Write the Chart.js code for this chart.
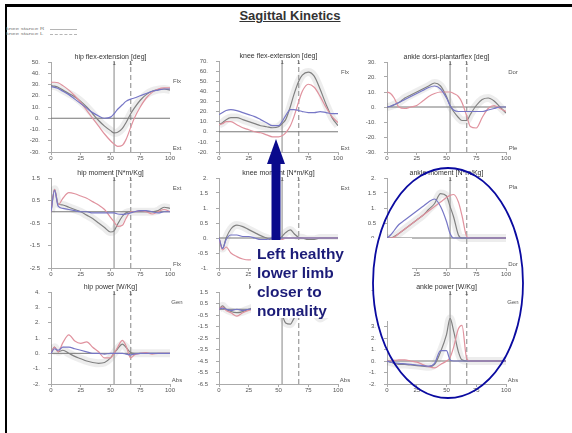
<!DOCTYPE html>
<html>
<head>
<meta charset="utf-8">
<title>Sagittal Kinetics</title>
<script src="https://cdn.jsdelivr.net/npm/chart.js@4.4.0/dist/chart.umd.min.js"></script>
<style>
  html, body { margin: 0; padding: 0; background: #fff; }
  body { position: relative; width: 572px; height: 433px; overflow: hidden; font-family: "Liberation Sans", Arial, sans-serif; }
  #frame { position: absolute; left: 5px; top: 4px; right: 0; bottom: 0; border-top: 3px solid #000; border-left: 2px solid #000; }
  #title { position: absolute; left: 190px; width: 200px; top: 8px; text-align: center; font-weight: bold; font-size: 13px; color: #333; text-decoration: underline; }
  canvas { position: absolute; }
  .lg { position: absolute; left: 6px; height: 5px; font-size: 6px; line-height: 5px; color: #777; white-space: nowrap; }
  .lg span { display: inline-block; transform: scaleY(0.6); }
  .lg i { position: absolute; left: 44px; top: 2px; width: 27px; border-top: 1px solid #b5b5b5; }
  .lg i.dash { border-top-style: dashed; }
  #overlay { position: absolute; left: 0; top: 0; z-index: 5; }
  #note { position: absolute; z-index: 6; left: 251px; top: 240px; width: 100px; height: 78px; background: #fff; color: #1c1c78;
          font-weight: bold; font-size: 15.5px; line-height: 19px; padding: 4px 0 0 6px; box-sizing: border-box; }
</style>
</head>
<body>
<div id="frame"></div>
<div id="title">Sagittal Kinetics</div>
<div class="lg" style="top:27px"><span>knee stance R</span><i></i></div>
<div class="lg" style="top:32px"><span>knee stance L</span><i class="dash"></i></div>

<svg id="overlay" width="572" height="433">
  <rect x="360" y="238" width="52" height="40" fill="#fff"/>
  <rect x="360" y="291" width="31" height="30" fill="#fff"/>
  <ellipse cx="448" cy="283" rx="75" ry="115" fill="none" stroke="#0a0aa0" stroke-width="1.8"/>
  <polygon points="276,139 267,164 285,164" fill="#0a0a8c"/>
  <rect x="271.5" y="163" width="9" height="78" fill="#0a0a8c"/>
</svg>
<div id="note">Left healthy<br>lower limb<br>closer to<br>normality</div>

<script>
// % of gait cycle
const X = [0, 3, 6, 10, 15, 20, 25, 30, 35, 40, 45, 50, 53, 56, 60, 63, 67, 70, 75, 80, 85, 90, 95, 100];
// toe-off markers (solid / dashed)
const EVENTS = [53, 67];
const XTICKS = [0, 25, 50, 75, 100];

// hip flex-extension [deg]
const hipFlexNorm = [29, 28.5, 27.5, 25, 22, 19, 15, 10, 4, -2, -7, -11, -13, -12.5, -9, -4, 4, 9, 16, 21, 24, 25.5, 26, 25];
const hipFlexR = [32, 32, 31.5, 29, 25, 20, 14, 7, 0, -7, -14, -20, -23, -25, -24, -19, -8, 0, 10, 18, 23, 26, 27, 27];
const hipFlexL = [28, 27.5, 26.5, 24, 21, 17, 13, 9, 5, 2, 0, 1, 4, 8, 12, 15, 17, 18, 20, 22, 24, 25, 26, 26];

// knee flex-extension [deg]
const kneeFlexNorm = [7, 9, 12, 14, 14, 12, 10, 8, 6, 5, 4, 5, 8, 12, 25, 37, 50, 56, 59, 55, 42, 27, 14, 6];
const kneeFlexR = [7, 8, 10, 10, 7, 4, 2, 0, -1, -3, -5, -5, -4, -1, 6, 15, 30, 40, 47, 44, 35, 24, 15, 9];
const kneeFlexL = [17, 19, 21, 22, 21, 19, 17, 15, 12, 9, 6, 6, 10, 16, 22, 22, 21, 20, 19, 19, 20, 19, 18, 18];

// ankle dorsi-plantarflex [deg]
const ankleFlexNorm = [0, 0.5, 1.5, 3, 6, 8, 10, 12, 14, 16, 14, 7, 1, -3, -7, -9, -9, -5, 1, 5, 6, 4, 0, -4];
const ankleFlexR = [10, 9, 6, 0, -1, 0, 1, 4, 7, 9, 10, 10, 10, 9, 7, 3, -6, -13, -14, -7, -1, 1, -1, -3];
const ankleFlexL = [0, 0.5, 1.5, 3, 5, 7, 9, 11, 13, 14, 12, 6, 1, -2, -3, -3, -3, -3, -3, -3, -2, -1, 0, 0];

// hip moment [N*m/Kg]
const hipMomNorm = [0, 1.0, 0.35, 0.3, 0.2, 0.1, 0, -0.15, -0.3, -0.5, -0.7, -0.9, -0.85, -0.55, -0.2, -0.05, 0, 0, 0, 0, 0, 0.05, 0.2, 0.15];
const hipMomR = [0, 1.0, 0.3, 0.6, 0.85, 0.8, 0.7, 0.6, 0.45, 0.3, 0.1, -0.25, -0.45, -0.65, -0.6, -0.3, 0, 0, 0.05, 0, -0.1, 0, 0.1, 0];
const hipMomL = [0, 0.95, 0.25, 0.15, 0.1, 0.05, 0, 0, -0.05, -0.05, -0.05, -0.05, -0.05, -0.1, -0.12, -0.1, -0.05, 0, 0.05, 0.05, 0, -0.05, 0, 0];

// knee moment [N*m/Kg]
const kneeMomNorm = [0, -0.35, 0, 0.3, 0.43, 0.38, 0.28, 0.18, 0.08, 0, -0.08, -0.05, 0.05, 0.18, 0.27, 0.15, 0.02, 0, -0.05, -0.05, 0, 0, 0, 0];
const kneeMomR = [0, -0.4, -0.3, -0.5, -0.62, -0.7, -0.73, -0.7, -0.55, -0.35, -0.2, -0.1, -0.05, 0, 0, 0, 0, 0, 0, 0, 0, 0, 0, 0];
const kneeMomL = [0, -0.35, -0.05, 0.1, 0.1, 0.05, 0.05, 0, -0.05, -0.05, 0, 0, 0, 0, 0, 0, 0, 0, 0, 0, 0, 0, 0, 0];

// ankle moment [N*m/Kg]
const ankleMomNorm = [0, 0, 0.05, 0.15, 0.3, 0.45, 0.6, 0.75, 0.95, 1.15, 1.48, 1.4, 1.05, 0.7, 0.1, 0, 0, 0, 0, 0, 0, 0, 0, 0];
const ankleMomR = [0, 0, 0.02, 0.15, 0.3, 0.45, 0.6, 0.75, 0.9, 1.05, 1.2, 1.35, 1.42, 1.45, 1.2, 0.75, 0.05, 0, 0, 0, 0, 0, 0, 0];
const ankleMomL = [0, 0.1, 0.25, 0.45, 0.6, 0.75, 0.9, 1.05, 1.2, 1.3, 1.05, 0.55, 0.15, 0, 0, 0, 0, 0, 0, 0, 0, 0, 0, 0];

// hip power [W/Kg]
const hipPowNorm = [0, 0.4, 0.1, 0.2, 0, -0.2, -0.35, -0.5, -0.6, -0.65, -0.6, -0.3, 0, 0.3, 0.6, 0.4, 0.05, 0, 0, 0, 0, 0, 0, 0];
const hipPowR = [0, 0.4, 0.1, 0.7, 1.2, 0.8, 0.65, 0.75, 0.4, 0.1, -0.3, -0.3, 0, 0.4, 0.85, 0.5, -0.3, -0.1, 0, 0.05, -0.05, 0, 0, 0];
const hipPowL = [0, 0.3, 0.2, 0.4, 0.4, 0.3, 0.2, 0.1, 0, 0, -0.05, 0, 0, 0, 0, -0.05, -0.1, -0.05, 0, 0, 0, 0, 0, 0];

// knee power [W/Kg]
const kneePowNorm = [0, 0.3, 0, -0.2, -0.3, -0.2, 0, 0.2, 0.3, 0.2, 0, -0.2, -0.5, -1.2, -1.3, -0.8, -0.2, 0, 0, -0.3, -0.8, -0.5, -0.1, 0];
const kneePowR = [0, 0.2, -0.1, -0.3, -0.6, -0.3, -0.1, 0, 0, 0, 0, 0, 0, 0, 0, 0, 0, 0, 0, 0, 0, 0, 0, 0];
const kneePowL = [0, 0.1, 0, -0.1, 0, -0.1, 0, 0, 0, 0, 0, 0, 0, 0, 0, 0, 0, 0, 0, 0, 0, 0, 0, 0];

// ankle power [W/Kg]
const anklePowNorm = [0, -0.1, -0.2, -0.3, -0.3, -0.35, -0.4, -0.45, -0.5, -0.3, 0.8, 2.3, 3.7, 2.6, 0.8, 0.1, 0, 0, 0, 0, 0, 0, 0, 0];
const anklePowR = [0, 0, 0.05, 0.1, 0.1, 0, -0.1, -0.3, -0.5, -0.6, -0.3, 0, 0.3, 1.2, 2.8, 3.1, 0.2, 0, 0, 0, 0, 0, 0, 0];
const anklePowL = [0, -0.1, -0.15, -0.2, -0.25, -0.3, -0.35, -0.4, -0.45, -0.2, 0.9, 0.9, 0.1, 0, 0, 0, 0, 0, 0, 0, 0, 0, 0, 0];

Chart.defaults.font.family = '"Liberation Sans", Arial, sans-serif';

const panels = [
  { title: "hip flex-extension [deg]", area: [51, 62, 170, 152], min: -30, max: 50, step: 10, upper: "Flx", lower: "Ext", upperDy: 19, norm: hipFlexNorm, r: hipFlexR, l: hipFlexL },
  { title: "knee flex-extension [deg]", area: [219, 61, 338, 152], min: -20, max: 70, step: 10, upper: "Flx", lower: "Ext", upperDy: 11, norm: kneeFlexNorm, r: kneeFlexR, l: kneeFlexL },
  { title: "ankle dorsi-plantarflex [deg]", area: [387, 62, 506, 152], min: -30, max: 30, step: 10, upper: "Dor", lower: "Ple", upperDy: 10, norm: ankleFlexNorm, r: ankleFlexR, l: ankleFlexL },
  { title: "hip moment [N*m/Kg]", area: [51, 178, 170, 268], min: -2.5, max: 1.5, step: 1, upper: "Ext", lower: "Flx", upperDy: 10, norm: hipMomNorm, r: hipMomR, l: hipMomL },
  { title: "knee moment [N*m/Kg]", area: [219, 178, 338, 268], min: -1, max: 2, step: 0.5, upper: "Ext", lower: "", upperDy: 10, norm: kneeMomNorm, r: kneeMomR, l: kneeMomL },
  { title: "ankle moment [N*m/Kg]", area: [387, 178, 506, 268], min: -1, max: 2, step: 0.5, upper: "Pla", lower: "Dor", upperDy: 9, norm: ankleMomNorm, r: ankleMomR, l: ankleMomL },
  { title: "hip power [W/Kg]", area: [51, 292, 170, 384], min: -2, max: 4, step: 1, upper: "Gen", lower: "Abs", upperDy: 10, norm: hipPowNorm, r: hipPowR, l: hipPowL },
  { title: "knee power [W/Kg]", area: [219, 292, 338, 384], min: -6.5, max: 1.5, step: 1, upper: "Gen", lower: "Abs", upperDy: 10, norm: kneePowNorm, r: kneePowR, l: kneePowL },
  { title: "ankle power [W/Kg]", area: [387, 292, 506, 384], min: -2, max: 6, step: 1, upper: "Gen", lower: "Abs", upperDy: 10, norm: anklePowNorm, r: anklePowR, l: anklePowL }
];

const panelText = {
  id: "panelText",
  afterDraw(chart, args, o) {
    const { ctx, chartArea: a, scales: { x } } = chart;
    ctx.save();
    ctx.textAlign = "center";
    ctx.textBaseline = "middle";
    ctx.fillStyle = "#333";
    ctx.font = '7px "Liberation Sans", Arial, sans-serif';
    ctx.fillText(o.title, (a.left + a.right) / 2, a.top - 5);
    ctx.fillStyle = "#555";
    ctx.font = '6px "Liberation Sans", Arial, sans-serif';
    ctx.fillText(o.upper, a.right + 7, a.top + o.upperDy);
    ctx.fillText(o.lower, a.right + 7, a.bottom - 4);
    EVENTS.forEach(v => ctx.fillText("1", x.getPixelForValue(v), a.top + 1));
    ctx.restore();
  }
};

function pts(ys) {
  return ys.map((y, i) => ({ x: X[i], y: y }));
}

function fmtY(v) {
  return Number.isInteger(v) ? v + "." : String(v);
}

function makePanel(p) {
  const [x0, y0, x1, y1] = p.area;
  const L = 30, T = 14, R = 24, B = 14;
  const c = document.createElement("canvas");
  c.width = x1 - x0 + L + R;
  c.height = y1 - y0 + T + B;
  c.style.left = (x0 - L) + "px";
  c.style.top = (y0 - T) + "px";
  document.body.appendChild(c);

  const straight = { tension: 0, cubicInterpolationMode: "default" };
  new Chart(c, {
    type: "line",
    data: {
      datasets: [
        { data: pts(p.l), borderColor: "#7676c6", borderWidth: 1.2, order: 0 },
        { data: pts(p.r), borderColor: "#e0929e", borderWidth: 1.2, order: 1 },
        { data: pts(p.norm), borderColor: "#808080", borderWidth: 1.2, order: 2 },
        Object.assign({ data: [{ x: 0, y: 0 }, { x: 100, y: 0 }], borderColor: "#777", borderWidth: 1, order: 3 }, straight),
        Object.assign({ data: [{ x: EVENTS[0], y: p.min }, { x: EVENTS[0], y: p.max }], borderColor: "#9a9a9a", borderWidth: 1.2, order: 4 }, straight),
        Object.assign({ data: [{ x: EVENTS[1], y: p.min }, { x: EVENTS[1], y: p.max }], borderColor: "#9a9a9a", borderWidth: 1.2, borderDash: [5, 3], order: 5 }, straight),
        { data: pts(p.norm), borderColor: "rgba(0,0,0,0.07)", borderWidth: 8, order: 6 }
      ]
    },
    options: {
      responsive: false,
      animation: false,
      events: [],
      layout: { padding: { left: 0, top: T, right: R, bottom: 0 } },
      elements: {
        point: { radius: 0 },
        line: { cubicInterpolationMode: "monotone", fill: false }
      },
      plugins: {
        legend: { display: false },
        tooltip: { enabled: false },
        panelText: { title: p.title, upper: p.upper, lower: p.lower, upperDy: p.upperDy }
      },
      scales: {
        x: {
          type: "linear", min: 0, max: 100,
          afterBuildTicks: s => { s.ticks = XTICKS.map(v => ({ value: v })); },
          ticks: { font: { size: 6 }, color: "#555", padding: 0, maxRotation: 0, autoSkip: false },
          grid: { drawOnChartArea: false, tickLength: 3, color: "#aaa" },
          border: { color: "#aaa" },
          afterFit: s => { s.height = B; }
        },
        y: {
          min: p.min, max: p.max,
          ticks: { stepSize: p.step, font: { size: 6 }, color: "#555", padding: 8, autoSkip: false, callback: v => fmtY(v) },
          grid: { drawOnChartArea: false, tickLength: 3, color: "#aaa" },
          border: { color: "#aaa" },
          afterFit: s => { s.width = L; }
        }
      }
    },
    plugins: [panelText]
  });
}

panels.forEach(makePanel);
</script>
</body>
</html>
